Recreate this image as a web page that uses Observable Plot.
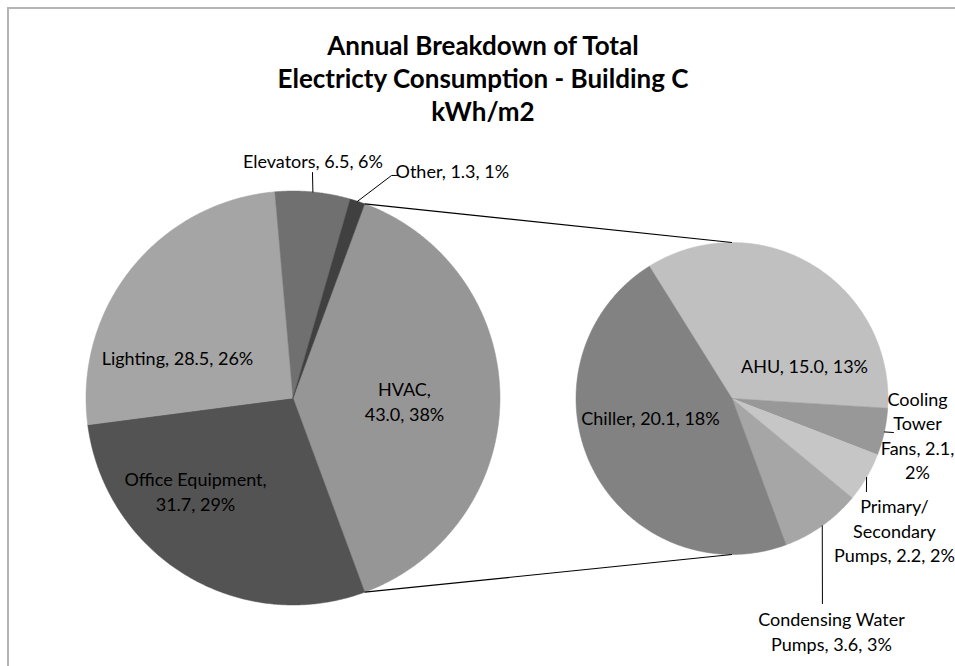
<!DOCTYPE html>
<html>
<head>
<meta charset="utf-8">
<script src="https://cdn.jsdelivr.net/npm/d3@7"></script>
<script src="https://cdn.jsdelivr.net/npm/@observablehq/plot@0.6"></script>
<style>
  body { margin: 0; background: #fff; }
  #wrap { position: relative; width: 955px; height: 666px; overflow: hidden; background: #fff; }
  #frame { position: absolute; left: 7px; top: 7px; width: 2000px; height: 2000px;
           border-left: 2px solid #b4b4b4; border-top: 2px solid #b4b4b4; }
  #title { position: relative; width: 966px; height: 130px; box-sizing: border-box; padding-top: 29px;
           text-align: center; font-family: Lato, "Open Sans", sans-serif; font-weight: bold;
           font-size: 26px; line-height: 33px; color: #000; }
  #chart { position: relative; }
  #chart svg { display: block; }
</style>
</head>
<body>
<div id="wrap">
  <div id="frame"></div>
  <div id="title">Annual Breakdown of Total<br>Electricty Consumption - Building C<br>kWh/m2</div>
  <div id="chart"></div>
</div>
<script>
// ---------- data ----------
const mainCategories = ["HVAC", "Office Equipment", "Lighting", "Elevators", "Other"];
const mainValues     = [43.0, 31.7, 28.5, 6.5, 1.3];
const mainPercents   = ["38%", "29%", "26%", "6%", "1%"];

const subCategories  = ["AHU", "Cooling Tower Fans", "Primary/Secondary Pumps", "Condensing Water Pumps", "Chiller"];
const subValues      = [15.0, 2.1, 2.2, 3.6, 20.1];
const subPercents    = ["13%", "2%", "2%", "3%", "18%"];

// ---------- styles / layout ----------
const mainColors = ["#969696", "#535353", "#a5a5a5", "#707070", "#404040"];
const subColors  = ["#c0c0c0", "#989898", "#c6c6c6", "#a6a6a6", "#828282"];

const pie1 = {cx: 292.5, cy: 397.5, r: 207};
const pie2 = {cx: 731.5, cy: 398, r: 156, start: -32};

// label placement (polar: angle clockwise from north in degrees, radius in px), wrap width in chars
const mainLabelLayout = [
  {a: 91.3, r: 111.5, wrap: 10},
  {a: 226.5, r: 134.4, wrap: 17},
  {a: 289.3, r: 122.4, wrap: 40},
  {a: 4.8, r: 238.3, wrap: 40, leader: [[4.94, 226.3]]},
  {a: 35.0, r: 277.8, wrap: 40, leader: [[23.88, 243.3], [25.37, 246.4]]}
];
const subLabelLayout = [
  {a: 65.5, r: 79.7, wrap: 16},
  {a: 101.0, r: 189, wrap: 10, leader: [[101.9, 165.0]]},
  {a: 129.0, r: 209, wrap: 14, leader: [[124.7, 163.5]]},
  {a: 156.8, r: 252.4, wrap: 16, leader: [[156.2, 224.1]]},
  {a: 256.9, r: 83.7, wrap: 40}
];

// ---------- helpers ----------
const rad = d => d * Math.PI / 180;
const pt = (p, a, r) => ({x: p.cx + r * Math.sin(rad(a)), y: p.cy - r * Math.cos(rad(a))});

function wrapText(s, width) {
  const tokens = [];
  s.split(" ").forEach(w => {
    const parts = w.split(/(?<=\/)/);
    parts.forEach((p, i) => tokens.push({w: p, sep: i < parts.length - 1 ? "" : " "}));
  });
  const lines = [];
  let cur = "", prevSep = "";
  tokens.forEach(t => {
    const cand = cur === "" ? t.w : cur + prevSep + t.w;
    if (cur !== "" && cand.length > width) { lines.push(cur); cur = t.w; }
    else cur = cand;
    prevSep = t.sep;
  });
  if (cur) lines.push(cur);
  return lines.join("\n");
}

function slices(cats, vals, start) {
  const total = d3.sum(vals);
  let a = start;
  return cats.map((c, i) => {
    const span = vals[i] / total * 360;
    const s = {key: c, a0: a, a1: a + span, mid: a + span / 2, value: vals[i]};
    a += span;
    return s;
  });
}

const total1 = d3.sum(mainValues);
const hvacSpan = mainValues[0] / total1 * 360;
const s1 = slices(mainCategories, mainValues, 90 - hvacSpan / 2);
const s2 = slices(subCategories, subValues, pie2.start);

function polys(sl, pie) {
  const out = [];
  sl.forEach(s => {
    out.push({key: s.key, ...pt(pie, 0, 0)});
    const n = Math.max(2, Math.ceil((s.a1 - s.a0) / 0.5));
    for (let k = 0; k <= n; k++) out.push({key: s.key, ...pt(pie, s.a0 + (s.a1 - s.a0) * k / n, pie.r)});
    out.push({key: s.key, ...pt(pie, 0, 0)});
  });
  return out;
}
const polyData = [...polys(s1, pie1), ...polys(s2, pie2)];

function labels(sl, pie, pcts, layout) {
  return sl.map((s, i) => {
    const L = layout[i];
    const p = pt(pie, L.a, L.r);
    return {x: p.x, y: p.y, text: wrapText(`${s.key}, ${s.value.toFixed(1)}, ${pcts[i]}`, L.wrap)};
  });
}
const labelData = [...labels(s1, pie1, mainPercents, mainLabelLayout), ...labels(s2, pie2, subPercents, subLabelLayout)];

function leaders(sl, pie, layout) {
  const out = [];
  sl.forEach((s, i) => {
    const L = layout[i];
    if (!L.leader) return;
    out.push({key: s.key, ...pt(pie, s.mid, pie.r)});
    L.leader.forEach(([a, r]) => out.push({key: s.key, ...pt(pie, a, r)}));
  });
  return out;
}
const leaderData = [...leaders(s1, pie1, mainLabelLayout), ...leaders(s2, pie2, subLabelLayout)];

const hv = s1[0];
const connectors = [
  {a: pt(pie1, hv.a0, pie1.r), b: pt(pie2, 0, pie2.r)},
  {a: pt(pie1, hv.a1, pie1.r), b: pt(pie2, 180, pie2.r)}
];

const chart = Plot.plot({
  width: 955,
  height: 536,
  margin: 0,
  style: {background: "transparent", overflow: "visible"},
  x: {domain: [0, 955], range: [0, 955], axis: null},
  y: {domain: [130, 666], range: [0, 536], axis: null},
  color: {domain: [...mainCategories, ...subCategories], range: [...mainColors, ...subColors]},
  marks: [
    Plot.line(polyData, {x: "x", y: "y", z: "key", fill: "key", stroke: "key", strokeWidth: 0.5}),
    Plot.link(connectors, {x1: d => d.a.x, y1: d => d.a.y, x2: d => d.b.x, y2: d => d.b.y, stroke: "#000", strokeWidth: 1.2}),
    Plot.line(leaderData, {x: "x", y: "y", z: "key", stroke: "#000", strokeWidth: 1}),
    Plot.text(labelData, {x: "x", y: "y", text: "text", fontSize: 18, lineHeight: 1.36,
      fontFamily: "Lato, 'Open Sans', sans-serif", fill: "#000", textAnchor: "middle"})
  ]
});
document.getElementById("chart").appendChild(chart);
</script>
</body>
</html>
